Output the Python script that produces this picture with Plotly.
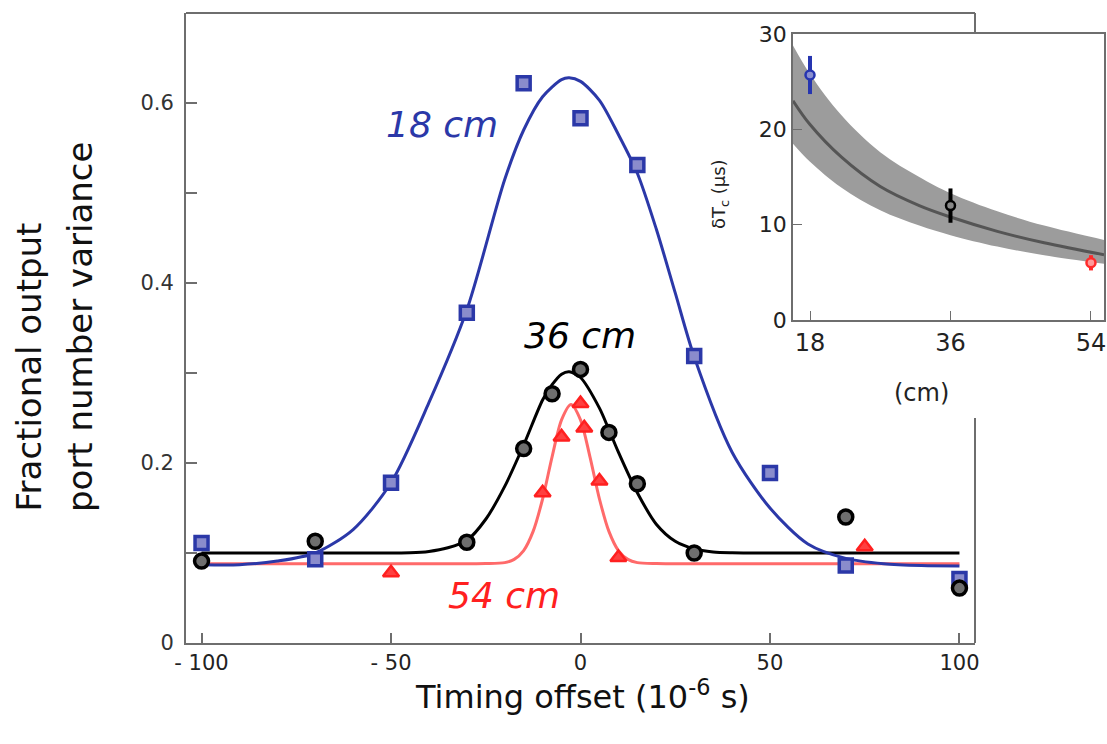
import plotly.graph_objects as go

# ---------------- main panel data ----------------
# 18 cm (blue squares)
x18 = [-100, -70, -50, -30, -15, 0, 15, 30, 50, 70, 100]
y18 = [0.111, 0.093, 0.178, 0.367, 0.622, 0.583, 0.531, 0.319, 0.189, 0.086, 0.071]
# 36 cm (black circles)
x36 = [-100, -70, -30, -15, -7.5, 0, 7.5, 15, 30, 70, 100]
y36 = [0.091, 0.113, 0.112, 0.216, 0.277, 0.304, 0.234, 0.177, 0.100, 0.140, 0.061]
# 54 cm (red triangles)
x54 = [-50, -10, -5, 0, 1, 5, 10, 75]
y54 = [0.078, 0.167, 0.229, 0.266, 0.239, 0.180, 0.095, 0.107]

# fitted curves
fx18 = [-100, -90, -80, -70, -60, -50, -40, -30, -20, -15, -10, -5, -3, 0, 5, 10, 15, 20, 25, 30, 40, 50, 60, 70, 80, 90, 100]
fy18 = [0.087, 0.087, 0.091, 0.100, 0.126, 0.178, 0.267, 0.370, 0.515, 0.570, 0.607, 0.626, 0.628, 0.624, 0.603, 0.565, 0.522, 0.460, 0.389, 0.318, 0.212, 0.150, 0.110, 0.094, 0.088, 0.086, 0.0856]
fx36 = [-100, -60, -45, -40, -35, -30, -25, -20, -15, -10, -7.5, -5, -3, 0, 5, 7.5, 10, 15, 20, 25, 30, 35, 40, 50, 100]
fy36 = [0.100, 0.100, 0.1003, 0.1017, 0.1058, 0.114, 0.1375, 0.174, 0.220, 0.270, 0.287, 0.2987, 0.3015, 0.295, 0.261, 0.237, 0.212, 0.167, 0.132, 0.113, 0.1046, 0.1012, 0.1003, 0.100, 0.100]
fx54 = [-100, -30, -25, -20, -17.5, -15, -12.5, -10, -7.5, -5, -2.5, 0, 2.5, 5, 7.5, 10, 12.5, 15, 20, 25, 100]
fy54 = [0.088, 0.088, 0.0882, 0.0893, 0.0929, 0.1027, 0.124, 0.160, 0.2068, 0.248, 0.265, 0.248, 0.2068, 0.160, 0.124, 0.1027, 0.0929, 0.0893, 0.0882, 0.088, 0.088]

x_tickvals = [-100, -50, 0, 50, 100]
x_ticktext = ["- 100", "- 50", "0", "50", "100"]
y_tickvals = [0, 0.2, 0.4, 0.6]
y_ticktext = ["0", "0.2", "0.4", "0.6"]
y_minor_ticks = [0.1, 0.3, 0.5]

# ---------------- inset data ----------------
in_x = [18, 36, 54]
in_y = [25.7, 12.0, 6.0]
in_err = [2.0, 1.8, 0.8]
in_colors = ["#2635b0", "#000000", "#ff2b2b"]
in_fill = ["#8a90d0", "#888888", "#ff9a9a"]

band_x = [15.82, 18, 22, 27, 32, 36, 42, 48, 55.67]
band_mid = [23.0, 20.5, 17.1, 14.0, 12.0, 10.8, 9.3, 8.1, 6.85]
band_hi = [28.8, 25.8, 21.5, 17.6, 15.0, 13.3, 11.4, 9.9, 8.4]
band_lo = [18.5, 16.6, 13.9, 11.5, 9.9, 8.9, 7.7, 6.8, 5.9]

in_xticks = [18, 36, 54]
in_yticks = [0, 10, 20, 30]

BLUE = "#2b38a8"
RED_LINE = "#ff6a6a"
RED = "#ff2020"
AXC = "#6e6e6e"
FONT = "DejaVu Sans"

W, H = 1107, 744
fig = go.Figure()

# main fit curves
fig.add_trace(go.Scatter(x=fx54, y=fy54, mode="lines", line=dict(color=RED_LINE, width=3, shape="spline", smoothing=0.8), xaxis="x", yaxis="y", showlegend=False))
fig.add_trace(go.Scatter(x=fx36, y=fy36, mode="lines", line=dict(color="#000000", width=3, shape="spline", smoothing=0.8), xaxis="x", yaxis="y", showlegend=False))
fig.add_trace(go.Scatter(x=fx18, y=fy18, mode="lines", line=dict(color=BLUE, width=3, shape="spline", smoothing=0.8), xaxis="x", yaxis="y", showlegend=False))

# main markers
fig.add_trace(go.Scatter(x=x18, y=y18, mode="markers", marker=dict(symbol="square", size=13, color="#8a8ccc", line=dict(color=BLUE, width=3.5)), showlegend=False))
fig.add_trace(go.Scatter(x=x36, y=y36, mode="markers", marker=dict(symbol="circle", size=14, color="#6e6e6e", line=dict(color="#000000", width=3.5)), showlegend=False))
fig.add_trace(go.Scatter(x=x54, y=y54, mode="markers", marker=dict(symbol="triangle-up", size=14, color="#ff4040", line=dict(color=RED, width=2.5)), showlegend=False))

# inset band + fit
fig.add_trace(go.Scatter(x=band_x, y=band_lo, mode="lines", line=dict(color="rgba(0,0,0,0)", width=0, shape="spline"), xaxis="x2", yaxis="y2", showlegend=False, hoverinfo="skip"))
fig.add_trace(go.Scatter(x=band_x, y=band_hi, mode="lines", fill="tonexty", fillcolor="#9c9c9c", line=dict(color="rgba(0,0,0,0)", width=0, shape="spline"), xaxis="x2", yaxis="y2", showlegend=False, hoverinfo="skip"))
fig.add_trace(go.Scatter(x=band_x, y=band_mid, mode="lines", line=dict(color="#555555", width=3, shape="spline"), xaxis="x2", yaxis="y2", showlegend=False))
for i in range(len(in_x)):
    fig.add_trace(go.Scatter(x=[in_x[i]], y=[in_y[i]], mode="markers",
                             marker=dict(symbol="circle", size=9, color=in_fill[i], line=dict(color=in_colors[i], width=2.5)),
                             error_y=dict(type="data", array=[in_err[i]], color=in_colors[i], thickness=4, width=0),
                             xaxis="x2", yaxis="y2", showlegend=False))

# geometry (pixels)
mx0, mx1, my0, my1 = 186, 975, 13, 643
ix0, ix1, iy0, iy1 = 793, 1104, 34, 320

fig.update_layout(
    width=W, height=H, margin=dict(l=0, r=0, t=0, b=0, autoexpand=False),
    paper_bgcolor="white", plot_bgcolor="rgba(0,0,0,0)",
    font=dict(family=FONT, color="#222222"),
    xaxis=dict(domain=[mx0 / W, mx1 / W], range=[-104.1, 104.1], showgrid=False, zeroline=False, automargin=False,
               showline=True, linecolor=AXC, linewidth=2, ticks="inside", ticklen=10, tickwidth=1.5, tickcolor=AXC,
               tickvals=x_tickvals, ticktext=x_ticktext, tickfont=dict(size=21, color="#222222", family=FONT)),
    yaxis=dict(domain=[1 - my1 / H, 1 - my0 / H], range=[0, 0.70], showgrid=False, zeroline=False, automargin=False,
               showline=True, linecolor=AXC, linewidth=2, ticks="inside", ticklen=11, tickwidth=1.5, tickcolor=AXC,
               tickvals=y_tickvals, ticktext=y_ticktext, tickfont=dict(size=21, color="#333333", family=FONT),
               minor=dict(tickvals=y_minor_ticks, ticks="inside", ticklen=11, tickwidth=1.5, tickcolor=AXC, showgrid=False),
               ticklabelstandoff=6),
    xaxis2=dict(domain=[ix0 / W, ix1 / W], range=[15.82, 55.67], anchor="y2", showgrid=False, zeroline=False, automargin=False,
                showline=True, mirror=True, linecolor=AXC, linewidth=1.5, ticks="inside", ticklen=9, tickcolor=AXC,
                tickvals=in_xticks, tickfont=dict(size=24, color="#222222", family=FONT)),
    yaxis2=dict(domain=[1 - iy1 / H, 1 - iy0 / H], range=[0, 30], anchor="x2", showgrid=False, zeroline=False, automargin=False,
                showline=True, mirror=True, linecolor=AXC, linewidth=1.5, ticks="inside", ticklen=9, tickcolor=AXC,
                tickvals=in_yticks, tickfont=dict(size=22, color="#222222", family=FONT)),
)

# main frame (top and right, interrupted by the inset)
line_style = dict(color=AXC, width=2)
fig.add_shape(type="line", xref="paper", yref="paper", x0=mx0 / W, x1=mx1 / W, y0=1 - my0 / H, y1=1 - my0 / H, line=line_style)
fig.add_shape(type="line", xref="paper", yref="paper", x0=mx1 / W, x1=mx1 / W, y0=1 - my0 / H, y1=1 - iy0 / H, line=line_style)
fig.add_shape(type="line", xref="paper", yref="paper", x0=mx1 / W, x1=mx1 / W, y0=1 - 418 / H, y1=1 - my1 / H, line=line_style)

# curve labels
fig.add_annotation(x=-36.6, y=0.5756, xref="x", yref="y", text="<i>18 cm</i>", showarrow=False, font=dict(size=36, color=BLUE, family=FONT))
fig.add_annotation(x=-0.2, y=0.342, xref="x", yref="y", text="<i>36 cm</i>", showarrow=False, font=dict(size=36, color="#000000", family=FONT))
fig.add_annotation(x=-20.2, y=0.053, xref="x", yref="y", text="<i>54 cm</i>", showarrow=False, font=dict(size=36, color=RED, family=FONT))

# axis titles
fig.add_annotation(x=582 / W, y=1 - 718 / H, xref="paper", yref="paper", text="Timing offset (10<sup>-6</sup> s)", showarrow=False, font=dict(size=32, color="#111111", family=FONT))
fig.add_annotation(x=28 / W, y=1 - 514 / H, xref="paper", yref="paper", text="Fractional output", textangle=-90, xanchor="center", yanchor="bottom", showarrow=False, font=dict(size=34, color="#111111", family=FONT))
fig.add_annotation(x=80 / W, y=1 - 514 / H, xref="paper", yref="paper", text="port number variance", textangle=-90, xanchor="center", yanchor="bottom", showarrow=False, font=dict(size=34, color="#111111", family=FONT))

# inset titles
fig.add_annotation(x=720 / W, y=1 - 157 / H, xref="paper", yref="paper", text="δT<sub>c</sub> (μs)", textangle=-90, showarrow=False, font=dict(size=18, color="#222222", family=FONT))
fig.add_annotation(x=951 / W, y=1 - 393 / H, xref="paper", yref="paper", text="(cm)", showarrow=False, font=dict(size=24, color="#222222", family=FONT))

fig.write_html("out.html")
